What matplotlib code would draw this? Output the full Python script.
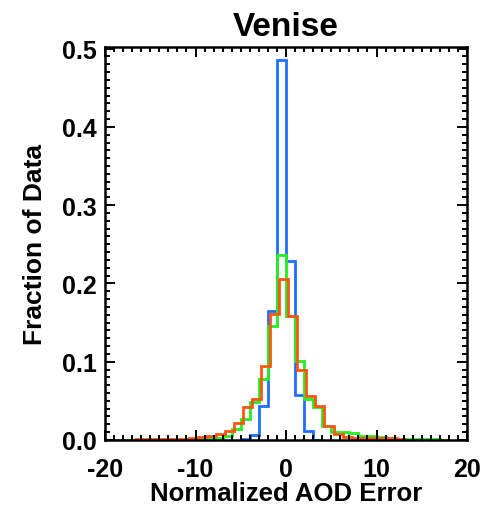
import numpy as np
import matplotlib
matplotlib.use("Agg")
import matplotlib.pyplot as plt
from matplotlib.ticker import MultipleLocator

# ---- data (fraction of data per unit-width bin) ----
blue_edges = [-5, -4, -3, -2, -1, 0, 1, 2, 3, 4]
blue_vals = [0.001, 0.006, 0.043, 0.165, 0.486, 0.229, 0.057, 0.012, 0.0]

green_edges = list(range(-20, 19))
green_vals = [0.0, 0.0, 0.0, 0.0, 0.0, 0.0, 0.0, 0.0, 0.0,
              0.001, 0.001, 0.002, 0.002, 0.005, 0.014, 0.027, 0.049, 0.078, 0.145,
              0.236, 0.158, 0.101, 0.052, 0.042, 0.018, 0.010, 0.010, 0.009, 0.005,
              0.005, 0.004, 0.002, 0.001, 0.001, 0.001, 0.001, 0.001, 0.0005]

orange_edges = [e + 0.25 for e in range(-17, 14)]
orange_vals = [0.001, 0.001, 0.001, 0.001, 0.001, 0.001, 0.002, 0.004, 0.005, 0.008,
               0.012, 0.022, 0.042, 0.052, 0.094, 0.161, 0.206, 0.159, 0.090, 0.056,
               0.044, 0.018, 0.007, 0.004, 0.003, 0.003, 0.002, 0.002, 0.002, 0.001]

title = "Venise"
xlabel = "Normalized AOD Error"
ylabel = "Fraction of Data"
xticks = [-20, -10, 0, 10, 20]
yticks = [0.0, 0.1, 0.2, 0.3, 0.4, 0.5]

plt.rcParams['font.family'] = ['Liberation Sans', 'DejaVu Sans']
plt.rcParams['font.weight'] = 'bold'

fig = plt.figure(figsize=(4.83, 5.06), dpi=100)
ax = fig.add_axes([0.2174, 0.1285, 0.7495, 0.7766])

lw = 2.0
ax.stairs(blue_vals, blue_edges, color='#1e6eff', lw=lw, baseline=None)
ax.stairs(green_vals, green_edges, color='#22ee22', lw=lw, baseline=None)
ax.stairs(orange_vals, orange_edges, color='#ff5512', lw=lw, baseline=None)

ax.set_xlim(-20, 20)
ax.set_ylim(0, 0.502)
ax.set_xticks(xticks)
ax.set_xticklabels([str(t) for t in xticks])
ax.set_yticks(yticks)
ax.set_yticklabels([f"{t:.1f}" for t in yticks])
ax.xaxis.set_minor_locator(MultipleLocator(1))
ax.yaxis.set_minor_locator(MultipleLocator(0.01))

ax.tick_params(which='both', direction='in', top=True, right=True, width=1.4, color='black')
ax.tick_params(which='major', length=7)
ax.tick_params(which='minor', length=3.5)
ax.tick_params(axis='x', which='major', labelsize=18, pad=12)
ax.tick_params(axis='y', which='major', labelsize=18, pad=6)
for lab in ax.get_xticklabels() + ax.get_yticklabels():
    lab.set_fontweight('bold')
for s in ax.spines.values():
    s.set_linewidth(1.8)

ax.set_title(title, fontsize=24, fontweight='bold', pad=9)
ax.set_xlabel(xlabel, fontsize=18.5, fontweight='bold', labelpad=0)
ax.set_ylabel(ylabel, fontsize=19, fontweight='bold', labelpad=11)

fig.savefig("out.png", dpi=100)
